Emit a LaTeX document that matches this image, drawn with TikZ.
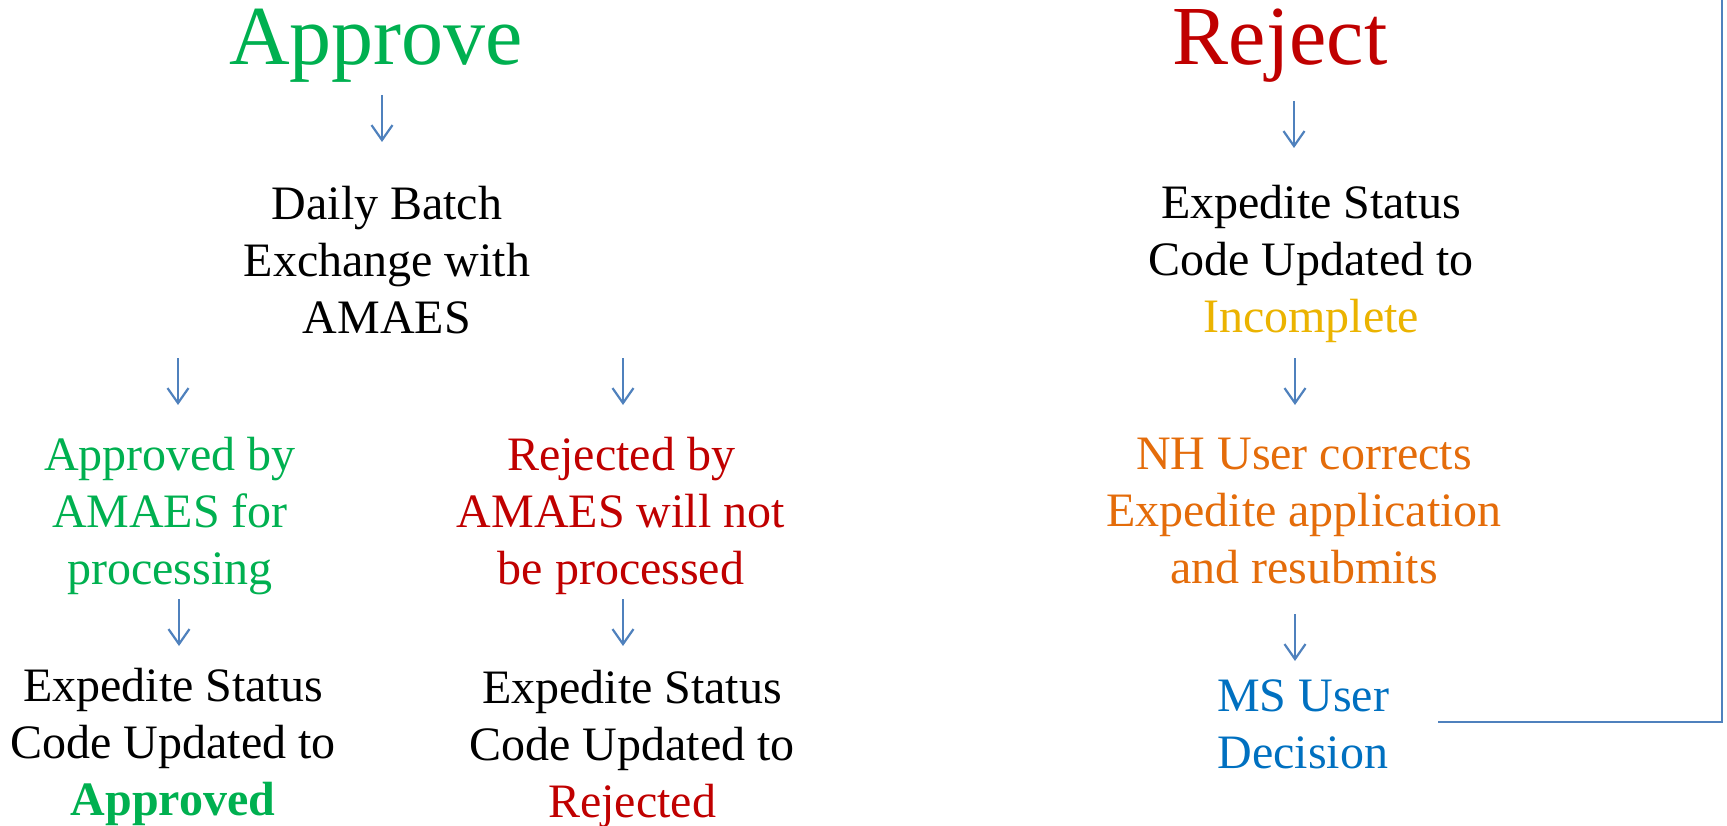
\documentclass[tikz,border=0pt]{standalone}
\usepackage{fontspec}
\setmainfont{Liberation Serif}
\usetikzlibrary{arrows.meta}
\definecolor{apgreen}{HTML}{00B050}
\definecolor{rjred}{HTML}{C00000}
\definecolor{incgold}{HTML}{EBB300}
\definecolor{nhorange}{HTML}{E46C0A}
\definecolor{msblue}{HTML}{0070C0}
\definecolor{arrblue}{HTML}{4F81BD}
\tikzset{
  txt/.style={align=center, inner sep=0pt, anchor=base, font=\fontsize{48}{57}\selectfont},
  ttl/.style={inner sep=0pt, anchor=base, font=\fontsize{84}{100}\selectfont},
  arr/.style={draw=arrblue, line width=2.2pt, -{Straight Barb[length=15pt,width=21pt,line width=2.2pt]}},
  ln/.style={draw=arrblue, line width=2pt}
}
\begin{document}
\begin{tikzpicture}[x=1pt,y=-1pt]
\useasboundingbox (0,0) rectangle (1727,826);
% titles
\node[ttl, text=apgreen] (approve) at (376,65) {Approve};
\node[ttl, text=rjred] (reject) at (1280,65) {Reject};
% left column (nodes anchored at the baseline of their last line)
\node[txt] (batch) at (387,334) {Daily Batch\\Exchange with\\AMAES};
\node[txt, text=apgreen] (apby) at (170,584) {Approved by\\AMAES for\\processing};
\node[txt, text=rjred] (rjby) at (621,584) {Rejected by\\AMAES will not\\be processed};
\node[txt] (stap) at (173,815) {Expedite Status\\Code Updated to\\\textcolor{apgreen}{\textbf{Approved}}};
\node[txt] (strj) at (632,817) {Expedite Status\\Code Updated to\\\textcolor{rjred}{Rejected}};
% right column
\node[txt] (stinc) at (1311,333) {Expedite Status\\Code Updated to\\\textcolor{incgold}{Incomplete}};
\node[txt, text=nhorange] (nh) at (1304,583) {NH User corrects\\Expedite application\\and resubmits};
\node[txt, text=msblue] (ms) at (1303,768) {MS User\\Decision};
% arrow end points
\coordinate (a1s) at (382,95);   \coordinate (a1e) at (382,142);
\coordinate (a2s) at (178,358);  \coordinate (a2e) at (178,405);
\coordinate (a3s) at (623,358);  \coordinate (a3e) at (623,405);
\coordinate (a4s) at (179,599);  \coordinate (a4e) at (179,646);
\coordinate (a5s) at (623,599);  \coordinate (a5e) at (623,646);
\coordinate (a6s) at (1294,101); \coordinate (a6e) at (1294,148);
\coordinate (a7s) at (1295,358); \coordinate (a7e) at (1295,405);
\coordinate (a8s) at (1295,614); \coordinate (a8e) at (1295,661);
\draw[arr] (a1s) -- (a1e);
\draw[arr] (a2s) -- (a2e);
\draw[arr] (a3s) -- (a3e);
\draw[arr] (a4s) -- (a4e);
\draw[arr] (a5s) -- (a5e);
\draw[arr] (a6s) -- (a6e);
\draw[arr] (a7s) -- (a7e);
\draw[arr] (a8s) -- (a8e);
% loop-back line
\coordinate (lstart) at (1438,722);
\coordinate (ltop) at (1722,0);
\draw[ln] (lstart) -| (ltop);
\end{tikzpicture}
\end{document}
